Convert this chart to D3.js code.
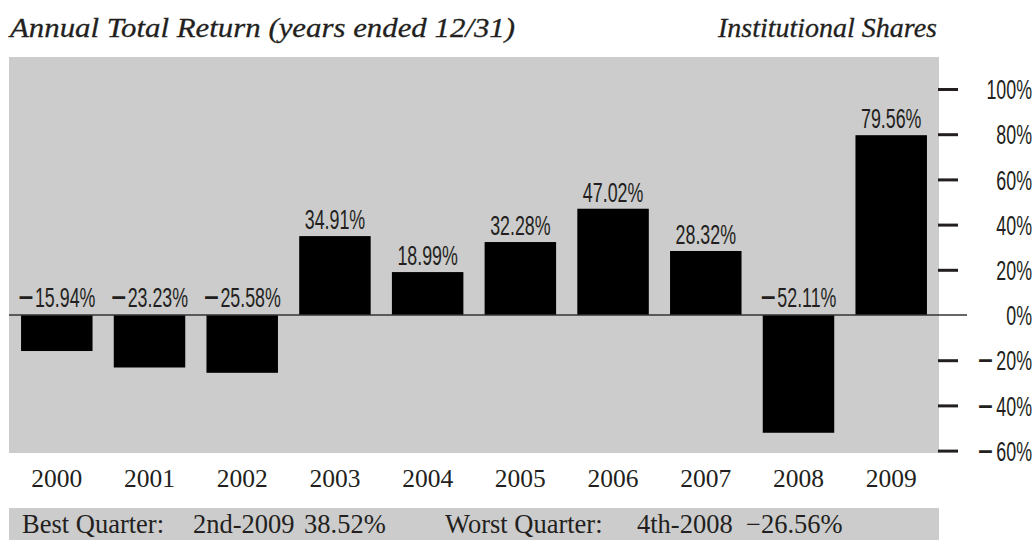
<!DOCTYPE html>
<html>
<head>
<meta charset="utf-8">
<script src="https://cdn.jsdelivr.net/npm/d3@7"></script>
<style>
body{margin:0;background:#fff}
</style>
</head>
<body>
<div id="chart"></div>
<script>
// data
const years=["2000","2001","2002","2003","2004","2005","2006","2007","2008","2009"];
const returns=[-15.94,-23.23,-25.58,34.91,18.99,32.28,47.02,28.32,-52.11,79.56];
const yTicks=[100,80,60,40,20,0,-20,-40,-60];
const quarterNames=["Best Quarter:","Worst Quarter:"];
const quarterPeriods=["2nd-2009","4th-2008"];
const quarterValues=[38.52,-26.56];

const width=1035,height=540;
const panel={left:9,right:939,top:57,bottom:453};
const ink="#231f20";
const sansFont="'Liberation Sans',Arial,sans-serif";
const serifFont="'Liberation Serif','Times New Roman',serif";
// condensed look: squeeze Liberation Sans horizontally
const squeeze=0.66;
const labelSize=27;

const svg=d3.select("#chart").append("svg").attr("width",width).attr("height",height);

// scales
const x=d3.scaleBand().domain(years).range([panel.left,panel.right]).paddingInner(0.229).paddingOuter(0.13);
const y=d3.scaleLinear().domain([-60,100]).range([450.6,89]);

// writes a number with a long thin minus like the original typesetting
function signedText(sel,v,body){
    sel.text(null);
    if(v<0){
        sel.append("tspan").attr("font-size",40).attr("dy",4).text("\u2212");
        sel.append("tspan").attr("font-size",labelSize).attr("dy",-4).attr("dx",2).text(body);
    }else{
        sel.text(body);
    }
}

// titles
svg.append("text")
    .attr("x",10).attr("y",37)
    .attr("font-family",serifFont).attr("font-style","italic").attr("font-size",28)
    .attr("fill",ink).attr("stroke",ink).attr("stroke-width",0.3)
    .attr("textLength",505).attr("lengthAdjust","spacingAndGlyphs")
    .text("Annual Total Return (years ended 12/31)");
svg.append("text")
    .attr("x",937).attr("y",37).attr("text-anchor","end")
    .attr("font-family",serifFont).attr("font-style","italic").attr("font-size",28)
    .attr("fill",ink).attr("stroke",ink).attr("stroke-width",0.3)
    .text("Institutional Shares");

// panel
svg.append("rect")
    .attr("x",panel.left).attr("y",panel.top)
    .attr("width",panel.right-panel.left).attr("height",panel.bottom-panel.top)
    .attr("fill","#cccccc");

// bars
svg.selectAll(".bar").data(returns).enter()
    .append("rect")
    .attr("class","bar")
    .attr("x",(d,i)=>x(years[i]))
    .attr("width",x.bandwidth())
    .attr("y",d=>y(Math.max(0,d)))
    .attr("height",d=>Math.abs(y(d)-y(0)))
    .attr("fill","#000");

// zero line
svg.append("line")
    .attr("x1",panel.left).attr("x2",967)
    .attr("y1",y(0)).attr("y2",y(0))
    .attr("stroke","#333").attr("stroke-width",1.5);

// value labels
svg.selectAll(".value").data(returns).enter()
    .append("g")
    .attr("class","value")
    .attr("transform",(d,i)=>`translate(${x(years[i])+x.bandwidth()/2},${d>0?y(d)-7:y(0)-8})`)
    .append("text")
    .attr("transform",`scale(${squeeze},1)`)
    .attr("text-anchor","middle")
    .attr("font-family",sansFont).attr("font-size",labelSize)
    .attr("fill",ink)
    .each(function(d){
        signedText(d3.select(this),d,Math.abs(d).toFixed(2)+"%");
    });

// right axis
const yAxis=d3.axisRight(y).tickValues(yTicks).tickSize(20).tickFormat(d=>Math.abs(d)+"%");
const yAxisG=svg.append("g").attr("transform",`translate(${panel.right-1},0)`).call(yAxis);
yAxisG.select(".domain").remove();
yAxisG.selectAll(".tick line")
    .attr("stroke",ink).attr("stroke-width",3)
    .filter(d=>d===0).remove();
yAxisG.selectAll(".tick text")
    .attr("x",0).attr("dy","0.36em")
    .attr("text-anchor","end")
    .attr("transform",`translate(${1033-panel.right},0) scale(${squeeze},1)`)
    .attr("font-family",sansFont).attr("font-size",labelSize)
    .attr("fill",ink)
    .each(function(d){
        if(d<0){
            const t=d3.select(this);
            t.text(null);
            t.append("tspan").attr("font-size",40).attr("dy",13.7).text("\u2212");
            t.append("tspan").attr("font-size",labelSize).attr("dy",-4).attr("dx",5).text(Math.abs(d)+"%");
        }
    });

// bottom axis (years)
const xAxis=d3.axisBottom(x).tickSize(0);
const xAxisG=svg.append("g").attr("transform","translate(0,487)").call(xAxis);
xAxisG.select(".domain").remove();
xAxisG.selectAll(".tick text")
    .attr("y",0).attr("dy",0)
    .attr("font-family",serifFont).attr("font-size",25.5)
    .attr("fill",ink);

// footer
svg.append("rect")
    .attr("x",panel.left).attr("y",508)
    .attr("width",panel.right-panel.left).attr("height",height-508)
    .attr("fill","#cccccc");
const footerItems=[
    {t:quarterNames[0],x:22},
    {t:quarterPeriods[0],x:193},
    {t:quarterValues[0].toFixed(2)+"%",x:304},
    {t:quarterNames[1],x:445},
    {t:quarterPeriods[1],x:637},
    {t:(quarterValues[1]<0?"\u2212":"")+Math.abs(quarterValues[1]).toFixed(2)+"%",x:746}
];
svg.selectAll(".foot").data(footerItems).enter()
    .append("text")
    .attr("class","foot")
    .attr("x",d=>d.x).attr("y",533)
    .attr("font-family",serifFont).attr("font-size",26.5)
    .attr("fill",ink)
    .text(d=>d.t);
</script>
</body>
</html>
